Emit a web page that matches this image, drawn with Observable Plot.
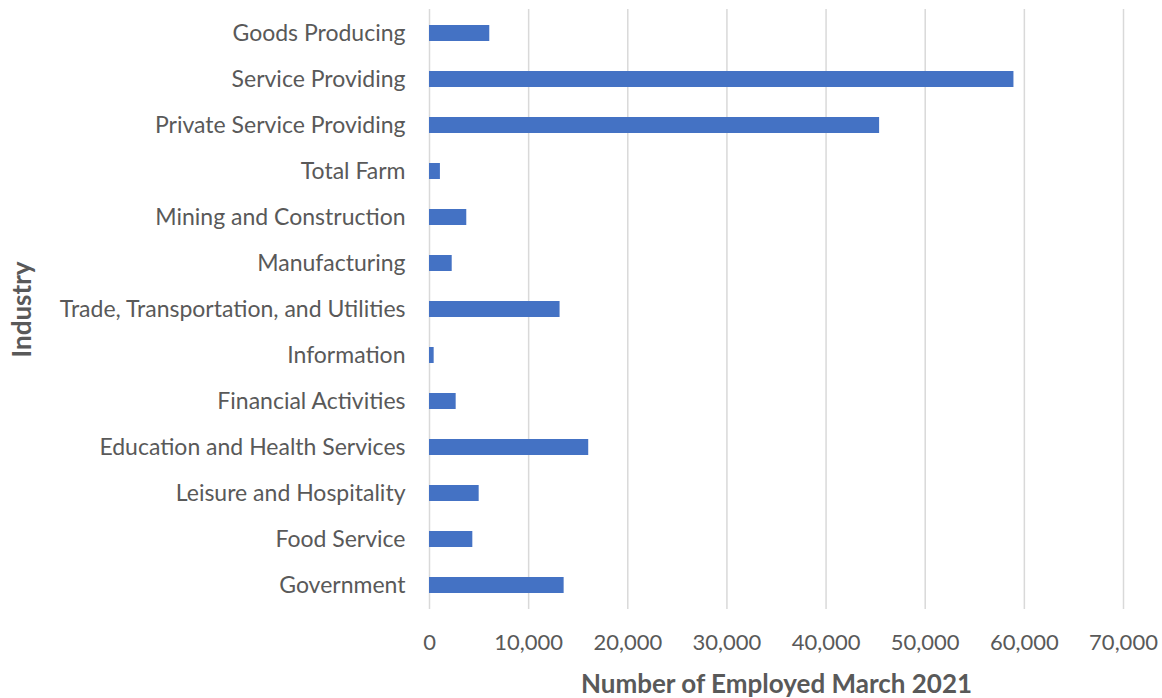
<!DOCTYPE html>
<html>
<head>
<meta charset="utf-8">
<script src="https://cdn.jsdelivr.net/npm/d3@7"></script>
<script src="https://cdn.jsdelivr.net/npm/@observablehq/plot@0.6"></script>
<style>
  html, body { margin: 0; padding: 0; background: white; }
</style>
</head>
<body>
<div id="chart"></div>
<script>
const categories = [
  "Goods Producing",
  "Service Providing",
  "Private Service Providing",
  "Total Farm",
  "Mining and Construction",
  "Manufacturing",
  "Trade, Transportation, and Utilities",
  "Information",
  "Financial Activities",
  "Education and Health Services",
  "Leisure and Hospitality",
  "Food Service",
  "Government"
];
const employed = [6080, 58950, 45400, 1100, 3760, 2290, 13170, 470, 2690, 16060, 5010, 4370, 13580];
const xTicks = [0, 10000, 20000, 30000, 40000, 50000, 60000, 70000];
const xLabel = "Number of Employed March 2021";
const yLabel = "Industry";

const data = categories.map((c, i) => ({industry: c, value: employed[i]}));

const chart = Plot.plot({
  width: 1162,
  height: 698,
  marginLeft: 429,
  marginRight: 39,
  marginTop: 9,
  marginBottom: 89,
  style: {fontFamily: "Lato, 'Open Sans', sans-serif", fontSize: "20px", color: "#595959", background: "white"},
  x: {domain: [0, 70000]},
  y: {domain: categories, paddingInner: 0.65, paddingOuter: 0.325},
  marks: [
    Plot.gridX(xTicks, {stroke: "#d9d9d9", strokeOpacity: 1, strokeWidth: 1.5}),
    Plot.barX(data, {x: "value", y: "industry", fill: "#4472C4"}),
    Plot.axisX(xTicks, {tickSize: 0, tickPadding: 25, tickFormat: d3.format(","), label: null, fontSize: 22, fill: "#595959"}),
    Plot.axisY({tickSize: 0, tickPadding: 24, label: null, fontSize: 23, fill: "#595959"}),
    Plot.text([xLabel], {frameAnchor: "bottom", dy: 83, text: d => d, fontSize: 26, fontWeight: "bold", fill: "#595959"}),
    Plot.text([yLabel], {frameAnchor: "left", textAnchor: "middle", dx: -407, rotate: -90, text: d => d, fontSize: 26, fontWeight: "bold", fill: "#595959"})
  ]
});
document.getElementById("chart").appendChild(chart);
</script>
</body>
</html>
